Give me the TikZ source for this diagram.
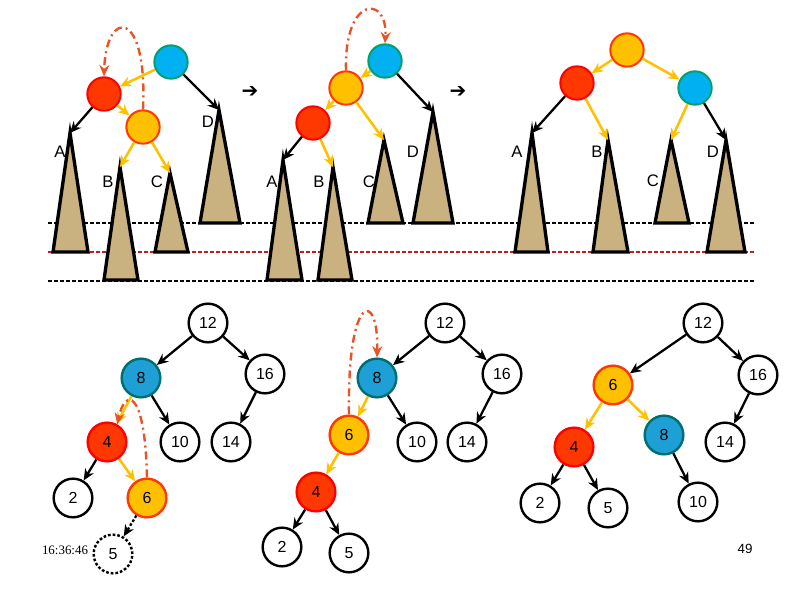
\documentclass[tikz,border=0pt]{standalone}
\usepackage{fontspec}
\setmainfont{Liberation Sans}
\newfontfamily\stampfont{Liberation Serif}
\newfontfamily\symfont{DejaVu Sans}
\usetikzlibrary{arrows.meta}

\definecolor{skyblue}{RGB}{0,176,240}
\definecolor{seagreen}{RGB}{0,160,110}
\definecolor{tealblue}{RGB}{30,160,215}
\definecolor{darkteal}{RGB}{0,110,110}
\definecolor{flame}{RGB}{255,55,0}
\definecolor{amber}{RGB}{255,192,0}
\definecolor{rust}{RGB}{230,85,40}
\definecolor{sand}{RGB}{201,177,128}
\definecolor{darkred}{RGB}{190,30,30}

\tikzset{
  ball/.style={circle, minimum size=25pt, inner sep=0pt, line width=1.5pt},
  blueball/.style={ball, fill=skyblue, draw=seagreen},
  redball/.style={ball, fill=flame, draw=red},
  yellowball/.style={ball, fill=amber, draw=flame},
  key/.style={circle, draw, line width=1.8pt, minimum size=29pt, inner sep=0pt,
    font=\fontsize{12}{14}\selectfont},
  bluekey/.style={key, fill=tealblue, draw=darkteal},
  redkey/.style={key, fill=flame, draw=red},
  yellowkey/.style={key, fill=amber, draw=flame},
  subtree/.style={fill=sand, draw=black, line width=2.5pt, line join=miter},
  blk/.style={->, line width=1.7pt},
  ylw/.style={->, line width=1.9pt, draw=amber},
  rot/.style={->, line width=1.8pt, draw=rust,
    dash pattern=on 6pt off 3pt on 1.5pt off 3pt},
  level/.style={line width=1.7pt, dash pattern=on 3pt off 1.5pt},
  lbl/.style={font=\fontsize{12.5}{14}\selectfont, inner sep=0pt},
}

\begin{document}
\begin{tikzpicture}[x=0.75pt, y=-0.75pt, >={Stealth[length=8.5pt, width=7.5pt]}]
        \useasboundingbox (0, 0) rectangle (794, 595);

        % Level lines
        \draw [level] (48, 223) -- (755, 223);
        \draw [level, darkred] (48, 252) -- (755, 252);
        \draw [level] (48, 281) -- (755, 281);

        % Subtrees # 1
        \coordinate (a1) at (70, 133);
        \coordinate (bb1) at (120, 167);
        \coordinate (c1) at (170, 173);
        \coordinate (d1) at (219, 110);
        \filldraw [subtree] (a1) -- (53, 252) -- (88, 252) -- cycle;
        \filldraw [subtree] (bb1) -- (104, 280) -- (138, 280) -- cycle;
        \filldraw [subtree] (c1) -- (155, 252) -- (188, 252) -- cycle;
        \filldraw [subtree] (d1) -- (200, 223) -- (240, 223) -- cycle;
        \node [lbl] (la1) at (60, 152) {A};
        \node [lbl] (lb1) at (108, 182) {B};
        \node [lbl] (lc1) at (157, 182) {C};
        \node [lbl] (ld1) at (208, 122) {D};

        % Rotation # 1
        \node [blueball] (b1) at (171, 62) {};
        \node [redball] (r1) at (104, 94) {};
        \node [yellowball] (y1) at (143, 127) {};
        \draw [ylw] (b1) -- (r1);
        \draw [blk] (b1) -- (d1);
        \draw [blk] (r1) -- (a1);
        \draw [ylw] (r1) -- (y1);
        \draw [ylw] (y1) -- (bb1);
        \draw [ylw] (y1) -- (c1);
        \draw [rot] (y1.north) .. controls (148, 8) and (106, 8) .. (r1.north);
        \node [font=\symfont\fontsize{15}{16}\selectfont, inner sep=0pt] (go1) at (250, 92) {➔};

        % Subtrees # 2
        \coordinate (a2) at (283, 160);
        \coordinate (bb2) at (333, 167);
        \coordinate (c2) at (384, 140);
        \coordinate (d2) at (433, 112);
        \filldraw [subtree] (a2) -- (267, 280) -- (302, 280) -- cycle;
        \filldraw [subtree] (bb2) -- (318, 280) -- (352, 280) -- cycle;
        \filldraw [subtree] (c2) -- (368, 223) -- (403, 223) -- cycle;
        \filldraw [subtree] (d2) -- (413, 223) -- (453, 223) -- cycle;
        \node [lbl] (la2) at (272, 182) {A};
        \node [lbl] (lb2) at (319, 182) {B};
        \node [lbl] (lc2) at (369, 182) {C};
        \node [lbl] (ld2) at (413, 152) {D};

        % Rotation # 2
        \node [blueball] (b2) at (385, 61) {};
        \node [yellowball] (y2) at (346, 88) {};
        \node [redball] (r2) at (313, 123) {};
        \draw [ylw] (b2) -- (y2);
        \draw [blk] (b2) -- (d2);
        \draw [ylw] (y2) -- (r2);
        \draw [ylw] (y2) -- (c2);
        \draw [blk] (r2) -- (a2);
        \draw [ylw] (r2) -- (bb2);
        \draw [rot] (y2.north) .. controls (344, -5) and (388, -5) .. (b2.north);
        \node [font=\symfont\fontsize{15}{16}\selectfont, inner sep=0pt] (go2) at (458, 92) {➔};

        % Subtrees # 3
        \coordinate (a3) at (532, 133);
        \coordinate (bb3) at (608, 140);
        \coordinate (c3) at (671, 140);
        \coordinate (d3) at (726, 140);
        \filldraw [subtree] (a3) -- (515, 252) -- (548, 252) -- cycle;
        \filldraw [subtree] (bb3) -- (593, 252) -- (628, 252) -- cycle;
        \filldraw [subtree] (c3) -- (655, 223) -- (689, 223) -- cycle;
        \filldraw [subtree] (d3) -- (707, 252) -- (745, 252) -- cycle;
        \node [lbl] (la3) at (517, 152) {A};
        \node [lbl] (lb3) at (597, 152) {B};
        \node [lbl] (lc3) at (653, 181) {C};
        \node [lbl] (ld3) at (713, 152) {D};

        % Balanced # 3
        \node [yellowball] (y3) at (627, 50) {};
        \node [redball] (r3) at (577, 83) {};
        \node [blueball] (b3) at (695, 88) {};
        \draw [ylw] (y3) -- (r3);
        \draw [ylw] (y3) -- (b3);
        \draw [blk] (r3) -- (a3);
        \draw [ylw] (r3) -- (bb3);
        \draw [ylw] (b3) -- (c3);
        \draw [blk] (b3) -- (d3);

        % Example tree # 1
        \node [key] (k12a) at (208, 323) {12};
        \node [bluekey] (k8a) at (141, 378) {8};
        \node [key] (k16a) at (265, 374) {16};
        \node [redkey] (k4a) at (107, 442) {4};
        \node [key] (k10a) at (180, 442) {10};
        \node [key] (k14a) at (231, 442) {14};
        \node [key] (k2a) at (73, 498) {2};
        \node [yellowkey] (k6a) at (147, 498) {6};
        \node [key, dash pattern=on 2pt off 1.5pt] (k5a) at (113, 554) {5};
        \draw [blk] (k12a) -- (k8a);
        \draw [blk] (k12a) -- (k16a);
        \draw [ylw] (k8a) -- (k4a);
        \draw [blk] (k8a) -- (k10a);
        \draw [blk] (k16a) -- (k14a);
        \draw [blk] (k4a) -- (k2a);
        \draw [ylw] (k4a) -- (k6a);
        \draw [blk, dash pattern=on 2pt off 1.5pt] (k6a) -- (k5a);
        \draw [rot] (k6a.north) .. controls (145, 388) and (125, 388) .. (k4a.60);

        % Example tree # 2
        \node [key] (k12b) at (445, 323) {12};
        \node [bluekey] (k8b) at (377, 378) {8};
        \node [key] (k16b) at (502, 374) {16};
        \node [yellowkey] (k6b) at (349, 435) {6};
        \node [key] (k10b) at (417, 442) {10};
        \node [key] (k14b) at (467, 442) {14};
        \node [redkey] (k4b) at (316, 492) {4};
        \node [key] (k2b) at (282, 547) {2};
        \node [key] (k5b) at (349, 553) {5};
        \draw [blk] (k12b) -- (k8b);
        \draw [blk] (k12b) -- (k16b);
        \draw [ylw] (k8b) -- (k6b);
        \draw [blk] (k8b) -- (k10b);
        \draw [blk] (k16b) -- (k14b);
        \draw [ylw] (k6b) -- (k4b);
        \draw [blk] (k4b) -- (k2b);
        \draw [blk] (k4b) -- (k5b);
        \draw [rot] (k6b.north) .. controls (347, 290) and (379, 290) .. (k8b.north);

        % Example tree # 3
        \node [key] (k12c) at (703, 323) {12};
        \node [yellowkey] (k6c) at (613, 385) {6};
        \node [key] (k16c) at (758, 375) {16};
        \node [redkey] (k4c) at (574, 447) {4};
        \node [bluekey] (k8c) at (664, 435) {8};
        \node [key] (k14c) at (725, 442) {14};
        \node [key] (k2c) at (540, 503) {2};
        \node [key] (k5c) at (608, 508) {5};
        \node [key] (k10c) at (698, 502) {10};
        \draw [blk] (k12c) -- (k6c);
        \draw [blk] (k12c) -- (k16c);
        \draw [ylw] (k6c) -- (k4c);
        \draw [ylw] (k6c) -- (k8c);
        \draw [blk] (k16c) -- (k14c);
        \draw [blk] (k4c) -- (k2c);
        \draw [blk] (k4c) -- (k5c);
        \draw [blk] (k8c) -- (k10c);

        % Footer
        \node [font=\stampfont\fontsize{9.7}{11}\selectfont, inner sep=0pt] (stamp) at (65, 550) {16:36:46};
        \node [font=\fontsize{10}{12}\selectfont, inner sep=0pt] (page) at (745, 549) {49};

    \end{tikzpicture}
\end{document}
